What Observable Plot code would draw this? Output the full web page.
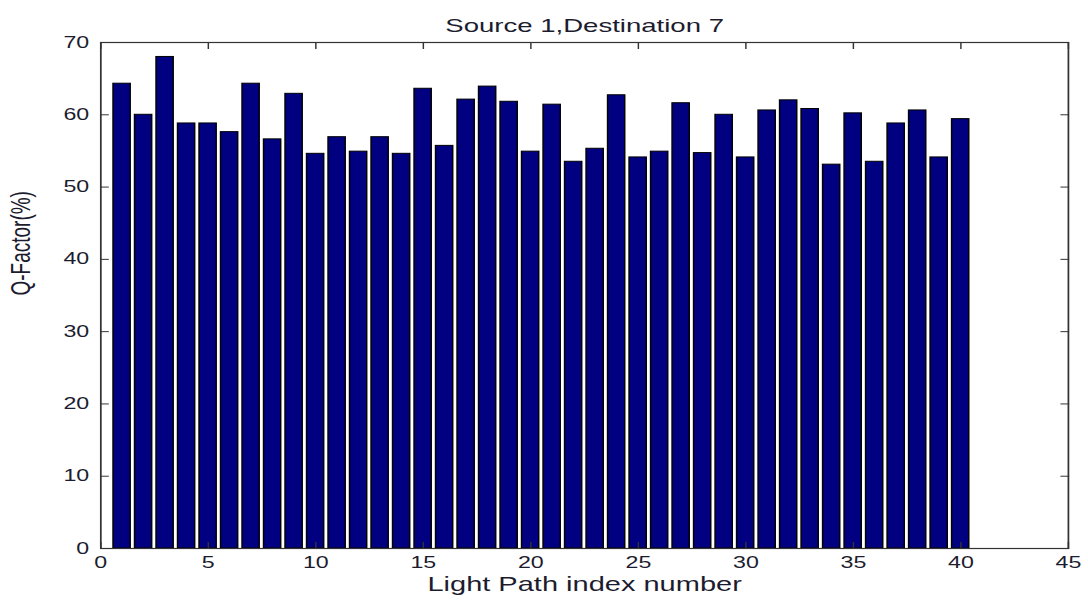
<!DOCTYPE html>
<html>
<head>
<meta charset="utf-8">
<script src="https://cdn.jsdelivr.net/npm/d3@7"></script>
<script src="https://cdn.jsdelivr.net/npm/@observablehq/plot@0.6"></script>
<style>
  html, body { margin: 0; padding: 0; background: #fff; }
  #chart { width: 1088px; height: 604px; overflow: hidden; }
</style>
</head>
<body>
<div id="chart"></div>
<script>
const titleText = "Source 1,Destination 7";
const xLabel = "Light Path index number";
const yLabel = "Q-Factor(%)";

const pathIndex = [1,2,3,4,5,6,7,8,9,10,11,12,13,14,15,16,17,18,19,20,
                   21,22,23,24,25,26,27,28,29,30,31,32,33,34,35,36,37,38,39,40];
const qFactor = [64.3,60.0,68.0,58.8,58.8,57.6,64.3,56.6,62.9,54.6,
                 56.9,54.9,56.9,54.6,63.6,55.7,62.1,63.9,61.8,54.9,
                 61.4,53.5,55.3,62.7,54.1,54.9,61.6,54.7,60.0,54.1,
                 60.6,62.0,60.8,53.1,60.2,53.5,58.8,60.6,54.1,59.4];
const xTicks = [0,5,10,15,20,25,30,35,40,45];
const yTicks = [0,10,20,30,40,50,60,70];
const barWidth = 0.8;

const data = pathIndex.map((i, k) => ({i, v: qFactor[k]}));

// The reference image is stretched horizontally; draw at a narrower width and stretch the SVG.
const stretch = 1.45;
const W = Math.round(1088 / stretch);
const textColor = "#1c1c2e";

const chart = Plot.plot({
  width: W,
  height: 604,
  marginLeft: 69,
  marginRight: 14,
  marginTop: 42,
  marginBottom: 56,
  style: {fontFamily: "'Liberation Sans', Arial, sans-serif", fontSize: "16px", color: textColor, background: "#fff"},
  x: {domain: [0, 45], label: null},
  y: {domain: [0, 70], label: null},
  marks: [
    Plot.rectY(data, {x1: d => d.i - barWidth / 2, x2: d => d.i + barWidth / 2, y1: 0, y2: "v",
      fill: "#000080", stroke: "#000", strokeWidth: 1}),
    Plot.frame({stroke: "#333", strokeWidth: 1.2}),
    Plot.axisX({anchor: "bottom", ticks: xTicks, tickSize: 0, tickPadding: 8, fontSize: 16, fill: textColor, label: null}),
    Plot.axisY({anchor: "left", ticks: yTicks, tickSize: 0, tickPadding: 8, fontSize: 16, fill: textColor, label: null}),
    Plot.axisX({anchor: "bottom", ticks: xTicks, tickSize: -6, fill: "none", stroke: "#333", label: null}),
    Plot.axisX({anchor: "top", ticks: xTicks, tickSize: -6, fill: "none", stroke: "#333", label: null}),
    Plot.axisY({anchor: "left", ticks: yTicks, tickSize: -6, fill: "none", stroke: "#333", label: null}),
    Plot.axisY({anchor: "right", ticks: yTicks, tickSize: -6, fill: "none", stroke: "#333", label: null}),
    Plot.text([titleText], {frameAnchor: "top", dy: -24, fontSize: 19, fill: textColor}),
    Plot.text([xLabel], {frameAnchor: "bottom", dy: 42, fontSize: 20, fill: textColor}),
    Plot.text([yLabel], {frameAnchor: "left", dx: -55, rotate: -90, fontSize: 19, fill: textColor})
  ]
});

chart.setAttribute("viewBox", `0 0 ${W} 604`);
chart.setAttribute("width", 1088);
chart.setAttribute("height", 604);
chart.setAttribute("preserveAspectRatio", "none");
chart.style.width = "1088px";
chart.style.height = "604px";
chart.style.maxWidth = "none";
document.getElementById("chart").appendChild(chart);
</script>
</body>
</html>
